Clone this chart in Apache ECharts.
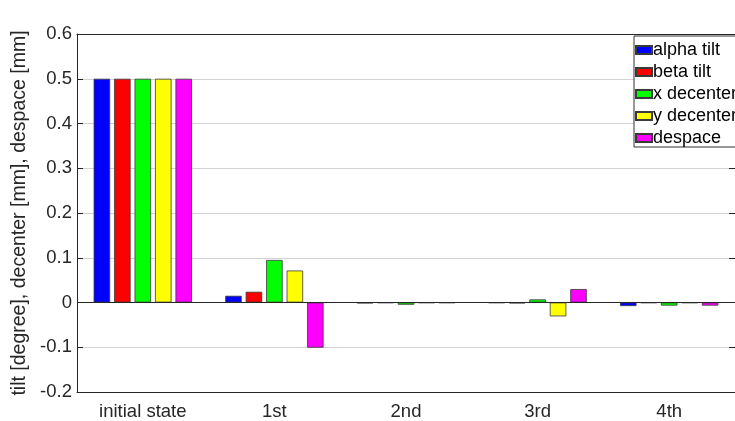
<!DOCTYPE html>
<html>
<head>
<meta charset="utf-8">
<script src="https://cdn.jsdelivr.net/npm/echarts@6/dist/echarts.min.js"></script>
<style>
	html, body { margin: 0; padding: 0; background: #fff; overflow: hidden; }
	#chart { width: 735px; height: 421px; }
</style>
</head>
<body>
<div id="chart"></div>
<script>
// 数据
const categories = ['initial state', '1st', '2nd', '3rd', '4th']
const alphaTilt = [0.5, 0.015, -0.002, -0.001, -0.008]
const betaTilt = [0.5, 0.024, -0.001, -0.002, -0.001]
const xDecenter = [0.5, 0.095, -0.005, 0.007, -0.007]
const yDecenter = [0.5, 0.0715, -0.001, -0.031, -0.001]
const despace = [0.5, -0.101, -0.001, 0.030, -0.007]
const yTicks = { min: -0.2, max: 0.6, interval: 0.1 }

const font = 'Liberation Sans, Arial, sans-serif'
const axisColor = '#262626'

const chartInstance = echarts.init(document.getElementById('chart'))

function barSeries(name, color, data) {
	return {
		name: name,
		type: 'bar',
		xAxisIndex: 0,
		yAxisIndex: 0,
		barWidth: 16.5,
		barGap: '24%',
		itemStyle: {
			color: color,
			borderColor: '#3a3a3a',
			borderWidth: 0.8,
		},
		data: data,
	}
}

const series = [
	barSeries('alpha tilt', '#0000ff', alphaTilt),
	barSeries('beta tilt', '#ff0000', betaTilt),
	barSeries('x decenter', '#00ff00', xDecenter),
	barSeries('y decenter', '#ffff00', yDecenter),
	barSeries('despace', '#ff00ff', despace),
]
// 零线
series[0].markLine = {
	silent: true,
	symbol: 'none',
	label: { show: false },
	lineStyle: { color: axisColor, width: 1, type: 'solid' },
	data: [{ yAxis: 0 }],
}

const option = {
	animation: false,
	textStyle: { fontFamily: font },
	grid: {
		left: 77,
		right: -5,
		top: 34,
		bottom: 27,
	},
	legend: {
		orient: 'vertical',
		left: 634,
		top: 36,
		itemWidth: 16,
		itemHeight: 8,
		itemGap: 4,
		padding: [5, 4, 0, 1],
		backgroundColor: '#fff',
		borderColor: '#333',
		borderWidth: 1,
		borderRadius: 0,
		icon: 'rect',
		textStyle: { color: '#000', fontSize: 18, fontFamily: font, padding: [0, 0, 0, -4] },
		data: ['alpha tilt', 'beta tilt', 'x decenter', 'y decenter', 'despace'],
	},
	xAxis: [
		{
			type: 'category',
			data: categories,
			position: 'bottom',
			axisLine: { onZero: false, lineStyle: { color: axisColor } },
			axisTick: { inside: true, alignWithLabel: true, length: 6, lineStyle: { color: axisColor } },
			axisLabel: { color: axisColor, fontSize: 18.5, margin: 10 },
		},
		{
			type: 'category',
			data: categories,
			position: 'top',
			axisLine: { onZero: false, lineStyle: { color: axisColor } },
			axisTick: { inside: true, alignWithLabel: true, length: 6, lineStyle: { color: axisColor } },
			axisLabel: { show: false },
		},
	],
	yAxis: [
		{
			type: 'value',
			min: yTicks.min,
			max: yTicks.max,
			interval: yTicks.interval,
			name: 'tilt [degree], decenter [mm], despace [mm]',
			nameLocation: 'middle',
			nameGap: 44,
			nameTextStyle: { color: axisColor, fontSize: 19.5, fontFamily: font },
			axisLine: { show: true, onZero: false, lineStyle: { color: axisColor } },
			axisTick: { show: true, inside: true, length: 6, lineStyle: { color: axisColor } },
			axisLabel: {
				color: axisColor,
				fontSize: 18.5,
				margin: 5,
				formatter: (v) => String(parseFloat(v.toFixed(1))),
			},
			splitLine: { show: true, lineStyle: { color: '#d2d2d2', width: 1 } },
		},
		{
			type: 'value',
			position: 'right',
			min: yTicks.min,
			max: yTicks.max,
			interval: yTicks.interval,
			axisLine: { show: true, onZero: false, lineStyle: { color: axisColor } },
			axisTick: { show: true, inside: true, length: 6, lineStyle: { color: axisColor } },
			axisLabel: { show: false },
			splitLine: { show: false },
		},
	],
	series: series,
}
chartInstance.setOption(option)
</script>
</body>
</html>
